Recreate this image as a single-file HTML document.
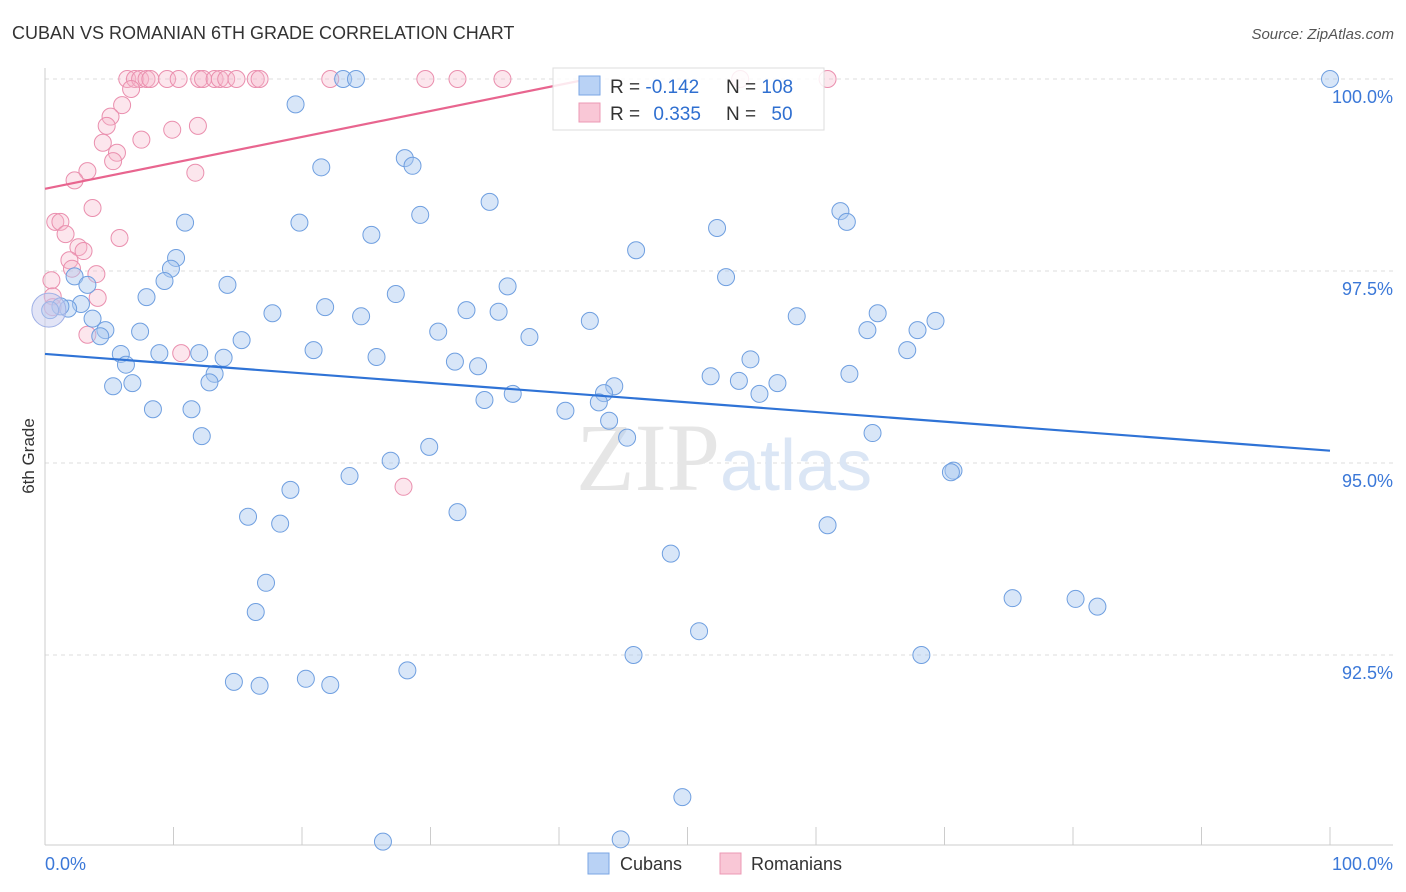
<!DOCTYPE html>
<html><head><meta charset="utf-8"><style>
body{margin:0;background:#fff;font-family:"Liberation Sans",sans-serif;}
svg{display:block}
</style></head><body>
<svg id="chart" width="1406" height="892">
<text x="12" y="39" font-size="18" fill="#333">CUBAN VS ROMANIAN 6TH GRADE CORRELATION CHART</text>
<text x="1394" y="39" font-size="15" fill="#555" font-style="italic" text-anchor="end">Source: ZipAtlas.com</text>
<text x="34" y="456" font-size="17" fill="#333" text-anchor="middle" transform="rotate(-90 34 456)">6th Grade</text>
<g id="grid"></g>
<text x="720" y="490" font-size="96" fill="#e6e6e6" text-anchor="end" font-family="Liberation Serif,serif">ZIP</text>
<text x="720" y="490" font-size="72" fill="#dbe6f5">atlas</text>
<g id="marks"></g>
<g>
<rect x="553" y="68" width="271" height="62" fill="#fff" fill-opacity="0.85" stroke="#ddd"/>
<rect x="579" y="76" width="21" height="19" fill="#b9d2f5" stroke="#7aa6e4"/>
<rect x="579" y="103" width="21" height="19" fill="#f9c7d6" stroke="#ec99b4"/>
<text x="610" y="93" font-size="19" fill="#333">R = <tspan fill="#2f6fd0">-0.142</tspan></text>
<text x="726" y="93" font-size="19" fill="#333">N = <tspan fill="#2f6fd0">108</tspan></text>
<text x="610" y="120" font-size="19" fill="#333">R = <tspan fill="#2f6fd0" dx="8">0.335</tspan></text>
<text x="726" y="120" font-size="19" fill="#333">N = <tspan fill="#2f6fd0" dx="10">50</tspan></text>
</g>
<g>
<rect x="588" y="853" width="21" height="21" fill="#b9d2f5" stroke="#7aa6e4"/>
<text x="620" y="870" font-size="18" fill="#333">Cubans</text>
<rect x="720" y="853" width="21" height="21" fill="#f9c7d6" stroke="#ec99b4"/>
<text x="751" y="870" font-size="18" fill="#333">Romanians</text>
</g>
</svg>
<script>
const cubanX=[100,23.2,24.2,19.5,21.5,28.0,28.6,34.6,29.2,19.8,10.9,25.4,52.3,61.9,62.4,46.0,10.2,9.8,9.3,14.2,53.0,2.3,3.3,7.9,36.0,27.3,21.8,17.7,24.6,32.8,35.3,42.4,58.5,64.8,69.3,67.9,64.0,30.6,37.7,15.3,7.4,4.7,3.7,2.8,1.8,1.2,0.4,4.3,5.9,8.9,12.0,13.9,20.9,25.8,31.9,33.7,54.9,67.1,6.3,13.2,12.8,5.3,6.8,51.8,54.0,57.0,62.6,44.3,43.5,43.1,36.4,34.2,55.6,8.4,11.4,40.5,43.9,12.2,45.3,64.4,29.9,26.9,23.7,19.1,70.7,70.5,15.8,18.3,32.1,60.9,48.7,17.2,16.4,75.3,80.2,81.9,50.9,45.8,68.2,28.2,14.7,16.7,20.3,22.2,49.6,26.3,44.8];
const cubanY=[100,100,100,99.67,98.85,98.97,98.87,98.40,98.23,98.13,98.13,97.97,98.06,98.28,98.14,97.77,97.67,97.53,97.37,97.32,97.42,97.43,97.32,97.16,97.30,97.20,97.03,96.95,96.91,96.99,96.97,96.85,96.91,96.95,96.85,96.73,96.73,96.71,96.64,96.60,96.71,96.73,96.88,97.07,97.01,97.04,96.99,96.65,96.42,96.43,96.43,96.37,96.47,96.38,96.32,96.26,96.35,96.47,96.28,96.16,96.05,96.00,96.04,96.13,96.07,96.04,96.16,96.00,95.91,95.79,95.90,95.82,95.90,95.70,95.70,95.68,95.55,95.35,95.33,95.39,95.21,95.03,94.83,94.65,94.90,94.88,94.30,94.21,94.36,94.19,93.82,93.44,93.06,93.24,93.23,93.13,92.81,92.50,92.50,92.30,92.15,92.10,92.19,92.11,90.65,90.07,90.10];
const romX=[6.4,7.0,7.4,7.9,8.2,9.5,10.4,12.0,12.3,13.2,13.6,14.1,14.9,16.4,16.7,22.2,29.6,32.1,35.6,54.1,60.9,6.7,6.0,5.1,4.8,9.9,11.9,7.5,4.5,5.6,5.3,3.3,2.3,11.7,3.7,0.8,1.2,1.6,5.8,2.6,3.0,1.9,2.1,4.0,0.5,0.6,4.1,0.6,3.3,10.6,27.9];
const romY=[100,100,100,100,100,100,100,100,100,100,100,100,100,100,100,100,100,100,100,100,100,99.87,99.66,99.51,99.39,99.34,99.39,99.21,99.17,99.04,98.93,98.80,98.68,98.78,98.32,98.14,98.14,97.98,97.93,97.81,97.76,97.64,97.53,97.46,97.38,97.17,97.15,97.03,96.67,96.43,94.69];
const cubanTrend=[96.42,95.16]; // y at x=0 and x=100
const romTrend=[98.57,0.0338]; // intercept, slope per %
const yTicks=[100,97.5,95,92.5];
const yTickLabels=["100.0%","97.5%","95.0%","92.5%"];
const xTicks=[0,10,20,30,40,50,60,70,80,90,100];

const NS="http://www.w3.org/2000/svg";
const sx=v=>45+v*12.85;
const sy=v=>79+(100-v)*76.8;
function mk(t,a,p){const e=document.createElementNS(NS,t);for(const k in a)e.setAttribute(k,a[k]);p.appendChild(e);return e;}
const grid=document.getElementById('grid');
const marks=document.getElementById('marks');
yTicks.forEach((t,i)=>{
 const l=mk('line',{x1:45,x2:1393,y1:sy(t),y2:sy(t),stroke:'#ddd','stroke-dasharray':'4,4'},grid);
 
 
 const tx=mk('text',{x:1393,y:sy(t)+24,'font-size':18,fill:'#3b78d8','text-anchor':'end'},grid);
 tx.textContent=yTickLabels[i];
 
 
});
const ax=mk('line',{x1:45,x2:45,y1:68,y2:845,stroke:'#ccc'},grid);


const bx=mk('line',{x1:45,x2:1393,y1:845,y2:845,stroke:'#ccc'},grid);


xTicks.forEach(t=>{
 const l=mk('line',{x1:sx(t),x2:sx(t),y1:827,y2:845,stroke:'#ccc'},grid);
 
 
});
const x0=mk('text',{x:45,y:870,'font-size':18,fill:'#3b78d8'},grid);x0.textContent='0.0%';


const x1=mk('text',{x:1393,y:870,'font-size':18,fill:'#3b78d8','text-anchor':'end'},grid);x1.textContent='100.0%';



romX.forEach((x,i)=>{
 const c=mk('circle',{cx:sx(x),cy:sy(romY[i]),r:8.5,fill:'#f7b6ca','fill-opacity':0.35,stroke:'#ea8fae','stroke-width':1},marks);
 
 
});
cubanX.forEach((x,i)=>{
 const c=mk('circle',{cx:sx(x),cy:sy(cubanY[i]),r:8.5,fill:'#a9c7f0','fill-opacity':0.45,stroke:'#6f9fe0','stroke-width':1},marks);
 
 
});
const big=mk('circle',{cx:sx(0.3),cy:sy(96.99),r:17,fill:'#c6c9ee','fill-opacity':0.5,stroke:'#9fb0e6'},marks);


const ct=mk('line',{x1:sx(0),y1:sy(cubanTrend[0]),x2:sx(100),y2:sy(cubanTrend[1]),stroke:'#2f73d6','stroke-width':2.2},marks);


const rEnd=(100-romTrend[0])/romTrend[1];
const rt=mk('line',{x1:sx(0),y1:sy(romTrend[0]),x2:sx(rEnd),y2:sy(100),stroke:'#e8658f','stroke-width':2.2},marks);


</script>
</body></html>
